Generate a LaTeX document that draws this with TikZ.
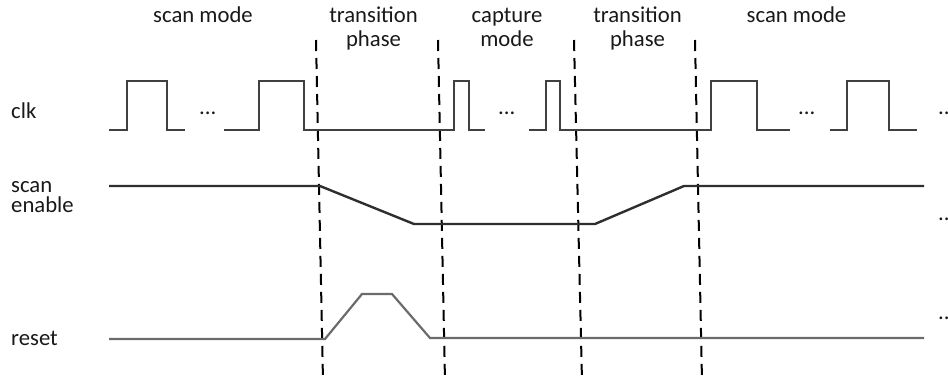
\documentclass[tikz,border=0pt]{standalone}
\usepackage{fontspec}
\setmainfont{Carlito}
\begin{document}
\begin{tikzpicture}[x=1pt,y=-1pt,
  lbl/.style={inner sep=0pt,font=\fontsize{22.7}{24}\selectfont,text=black!90},
  hdr/.style={lbl,anchor=base,align=center},
  sig/.style={lbl,anchor=base west,align=left},
  dots/.style={lbl,anchor=base west},
  clkwave/.style={draw=black!75,line width=2pt,line join=miter},
  sewave/.style={draw=black!82,line width=2.4pt,line join=miter},
  rstwave/.style={draw=black!58,line width=2.2pt,line join=miter},
  phaseline/.style={draw=black,line width=2pt,dash pattern=on 11pt off 7pt}]
\useasboundingbox (0,0) rectangle (948,381);
\clip (0,0) rectangle (948,381);

% phase headings (base anchor sits on the last line)
\node[hdr] (h1) at (203,22) {scan mode};
\node[hdr] (h2) at (373.5,46) {transition\\phase};
\node[hdr] (h3) at (507,46) {capture\\mode};
\node[hdr] (h4) at (637.5,46) {transition\\phase};
\node[hdr] (h5) at (796.5,22) {scan mode};

% signal names
\node[sig] (lclk) at (11,118) {clk};
\node[sig,font=\fontsize{22.7}{19.5}\selectfont] (lse) at (11,212) {scan\\enable};
\node[sig] (lrst) at (11,345) {reset};

% phase boundaries
\draw[phaseline] (316,40) -- (323,381);
\draw[phaseline] (438,40) -- (445,381);
\draw[phaseline] (574,40) -- (582,381);
\draw[phaseline] (695,40) -- (702,381);

% clock
\draw[clkwave] (109,130) -- (127,130) -- (127,81) -- (167,81) -- (167,130) -- (185,130);
\draw[clkwave] (224,130) -- (259,130) -- (259,81) -- (304,81) -- (304,130)
  -- (454,130) -- (454,81) -- (469,81) -- (469,130) -- (485,130);
\draw[clkwave] (529,130) -- (546,130) -- (546,81) -- (560,81) -- (560,130)
  -- (711,130) -- (711,81) -- (757,81) -- (757,130) -- (790,130);
\draw[clkwave] (830,130) -- (847,130) -- (847,81) -- (889,81) -- (889,130) -- (917,130);
\node[dots] (d1) at (199,114) {...};
\node[dots] (d2) at (498,114) {...};
\node[dots] (d3) at (798,114) {...};
\node[dots] (d4) at (938,114) {...};

% scan enable
\draw[sewave] (109,186) -- (320,186) -- (414,224) -- (595,224) -- (684,186) -- (924,186);
\node[dots] (d5) at (938,220) {...};

% reset
\draw[rstwave] (109,339) -- (325,339) -- (362,294) -- (392,294) -- (430,338) -- (924,338);
\node[dots] (d6) at (938,319) {...};
\end{tikzpicture}
\end{document}
